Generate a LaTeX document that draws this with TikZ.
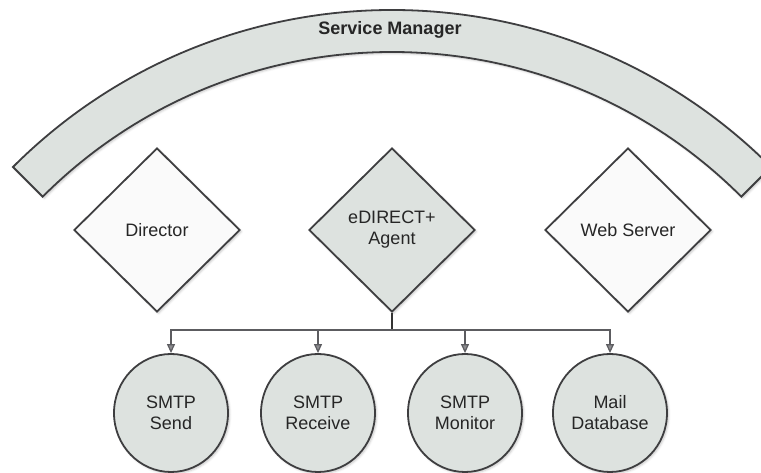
\documentclass[tikz,border=0pt]{standalone}
\usepackage{fontspec}
\setmainfont{Liberation Sans}
\usepackage{tikz}
\usetikzlibrary{
    arrows.meta,
    calc,
    positioning,
    shapes.geometric,
    shadows.blur
}
\definecolor{ink}{RGB}{62,62,64}
\definecolor{wire}{RGB}{92,92,96}
\definecolor{shade}{RGB}{221,226,223}
\definecolor{paper}{RGB}{250,250,250}
\tikzset{
    line cap=round,
    line join=round,
    pop/.style={
        blur shadow={shadow xshift=1.6pt, shadow yshift=-1.6pt,
            shadow opacity=22, shadow blur steps=4}
    },
    boxfont/.style={
        font=\fontsize{18}{21}\selectfont,
        text=black!85
    },
    role/.style={
        diamond,
        aspect=1,
        draw=ink,
        line width=1.8pt,
        fill=paper,
        minimum width=166pt,
        minimum height=164pt,
        inner sep=0pt,
        align=center,
        boxfont,
        pop
    },
    hub/.style={role, fill=shade},
    service/.style={
        ellipse,
        draw=ink,
        line width=1.8pt,
        fill=shade,
        minimum width=114pt,
        minimum height=118pt,
        inner sep=0pt,
        align=center,
        boxfont,
        pop
    },
    band/.style={
        draw=ink,
        line width=1.8pt,
        fill=shade,
        pop
    },
    stem/.style={
        draw=black!80,
        line width=1.4pt
    },
    feed/.style={
        -{Triangle[length=9pt, width=8pt, fill=wire!70]},
        draw=wire,
        line width=1.2pt
    }
}

\begin{document}
\begin{tikzpicture}[x=1pt, y=1pt]
\useasboundingbox (0,0) rectangle (761,473);

% === Service Manager band ===
\begin{scope}
\clip (0,0) rectangle (761,473);
\path[band] (392,-73) ++(135:536) arc[start angle=135, end angle=45, radius=536]
    -- ($(392,-73)+(45:494)$) arc[start angle=45, end angle=135, radius=494]
    -- cycle;
\end{scope}
\node[boxfont, font=\fontsize{18}{21}\selectfont\bfseries] (mgr) at (390,443) {Service Manager};

% === Roles ===
\node[role] (director) at (157,243) {Director};
\node[hub]  (agent)    at (392,243) {eDIRECT+\\Agent};
\node[role] (websrv)   at (628,243) {Web Server};

% === Agent services ===
\node[service] (send)    at (171,60) {SMTP\\Send};
\node[service] (receive) at (318,60) {SMTP\\Receive};
\node[service] (monitor) at (465,60) {SMTP\\Monitor};
\node[service] (maildb)  at (610,60) {Mail\\Database};

\coordinate (split) at (agent.south |- 0,143);
\draw[stem] (agent.south) -- (split);
\draw[feed] (split) -| (send.north);
\draw[feed] (split) -| (receive.north);
\draw[feed] (split) -| (monitor.north);
\draw[feed] (split) -| (maildb.north);

\end{tikzpicture}
\end{document}
